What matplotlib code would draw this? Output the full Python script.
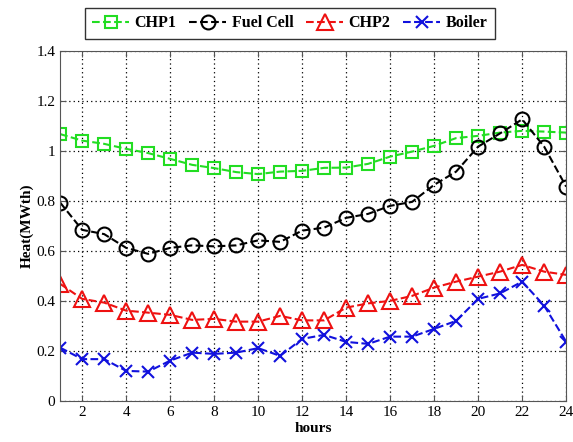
import numpy as np
import matplotlib
matplotlib.use("Agg")
import matplotlib.pyplot as plt

plt.rcParams["font.family"] = ["Liberation Serif", "DejaVu Serif"]

hours = list(range(1, 25))
chp1 = [1.067, 1.041, 1.028, 1.008, 0.991, 0.968, 0.944, 0.931, 0.915, 0.907, 0.917, 0.92,
        0.932, 0.933, 0.948, 0.977, 0.997, 1.02, 1.051, 1.06, 1.073, 1.08, 1.077, 1.073]
fuel_cell = [0.793, 0.684, 0.667, 0.612, 0.588, 0.612, 0.622, 0.618, 0.622, 0.642, 0.636, 0.681,
             0.693, 0.732, 0.748, 0.78, 0.796, 0.864, 0.917, 1.017, 1.07, 1.126, 1.017, 0.857]
chp2 = [0.468, 0.408, 0.393, 0.361, 0.353, 0.344, 0.324, 0.328, 0.317, 0.317, 0.34, 0.322,
        0.322, 0.373, 0.39, 0.4, 0.42, 0.453, 0.477, 0.497, 0.517, 0.544, 0.517, 0.504]
boiler = [0.213, 0.167, 0.167, 0.12, 0.117, 0.161, 0.193, 0.188, 0.193, 0.211, 0.18, 0.248,
          0.264, 0.236, 0.228, 0.257, 0.257, 0.288, 0.32, 0.408, 0.43, 0.477, 0.381, 0.237]

fig = plt.figure(figsize=(5.73, 4.42), dpi=100)
ax = fig.add_axes([0.105, 0.093, 0.883, 0.792])

ax.plot(hours, chp1, '--s', color='#22dd22', mfc='none', ms=9, lw=1.5, mew=1.5, label='CHP1')
ax.plot(hours, fuel_cell, '--o', color='black', mfc='none', ms=10, lw=1.5, mew=1.5, label='Fuel Cell')
ax.plot(hours, chp2, '--^', color='#ee1111', mfc='none', ms=11, lw=1.5, mew=1.5, label='CHP2')
ax.plot(hours, boiler, '--x', color='#1111dd', ms=8, lw=1.5, mew=1.5, label='Boiler')

ax.set_xlim(1, 24)
ax.set_ylim(0, 1.4)
ax.set_xticks(range(2, 25, 2))
ax.set_yticks([0, 0.2, 0.4, 0.6, 0.8, 1, 1.2, 1.4])
ax.set_yticklabels(['0', '0.2', '0.4', '0.6', '0.8', '1', '1.2', '1.4'])
ax.grid(True, linestyle=(0, (1, 2.5)), color='black', lw=0.9)
ax.tick_params(direction='in', top=True, right=True, labelsize=11, length=4, color='#555555')
for s in ax.spines.values():
    s.set_color('#555555')

ax.set_xlabel('hours', fontsize=11, fontweight='bold', labelpad=2)
ax.set_ylabel('Heat(MWth)', fontsize=11, fontweight='bold', labelpad=2)

leg = ax.legend(loc='lower center', bbox_to_anchor=(0.454, 1.035), ncol=4, frameon=True,
                fancybox=False, edgecolor='black', prop={'weight': 'bold', 'size': 11.5},
                handlelength=2.3, columnspacing=0.8, handletextpad=0.35, borderpad=0.45,
                borderaxespad=0)
leg.get_frame().set_linewidth(1.0)

plt.savefig('out.png', dpi=100)
